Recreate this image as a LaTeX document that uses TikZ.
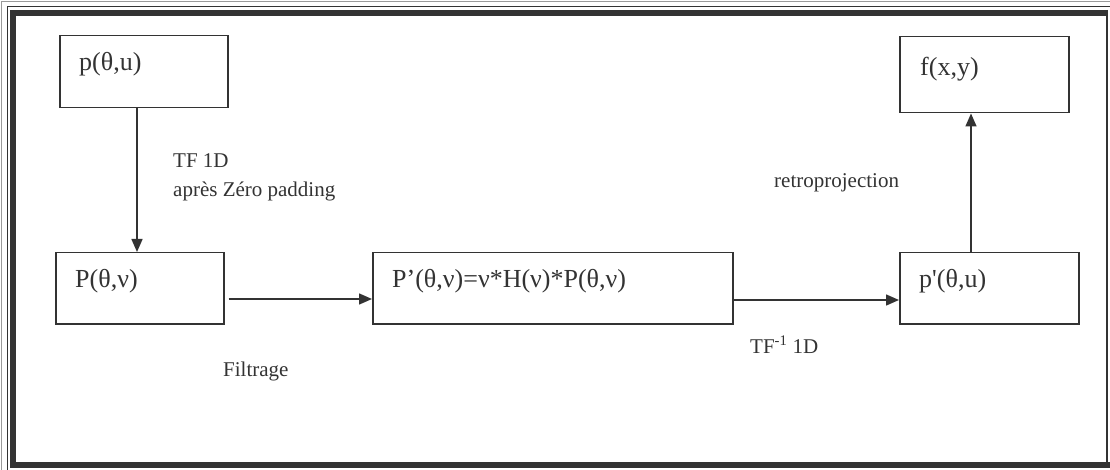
\documentclass[tikz,border=0pt]{standalone}
\usepackage{fontspec}
\setmainfont{Liberation Serif}
\newfontfamily\straightfont{Liberation Serif}
\usetikzlibrary{arrows.meta,calc}
\definecolor{ink}{HTML}{333333}
\definecolor{pale}{HTML}{9A9A9A}
\begin{document}
\begin{tikzpicture}[x=1pt,y=-1pt,
  boxsty/.style={draw=ink,line width=1.5pt,inner sep=0pt,anchor=north west},
  txt/.style={anchor=base west,inner sep=0pt,text=ink,font=\fontsize{26}{30}\selectfont},
  lbl/.style={anchor=base west,inner sep=0pt,text=ink,font=\fontsize{21}{25}\selectfont},
  arr/.style={draw=ink,line width=1.5pt,-{Triangle[length=13pt,width=11pt]}}
]
\useasboundingbox (0,0) rectangle (1110,470);
\fill[white] (0,0) rectangle (1110,470);
% frame
\draw[pale,line width=1pt] (1.5,470) -- (1.5,1.5) -- (1110,1.5);
\draw[ink,line width=1pt] (7,470) -- (7,7) -- (1110,7);
\fill[ink] (10,10) rectangle (1106,16);
\fill[ink] (10,10) rectangle (16,468);
\fill[ink] (10,462) rectangle (1110,468);
\draw[ink,line width=1.5pt] (1107,10) -- (1107,462);
% boxes
\node[boxsty,minimum width=168pt,minimum height=72pt] (b1) at (59,35) {};
\node[boxsty,minimum width=168pt,minimum height=71pt] (b2) at (55,252) {};
\node[boxsty,minimum width=360pt,minimum height=71pt] (b3) at (372,252) {};
\node[boxsty,minimum width=179pt,minimum height=71pt] (b4) at (899,252) {};
\node[boxsty,minimum width=169pt,minimum height=76pt] (b5) at (899,36) {};
% box texts
\node[txt] (t1) at ($(b1.north west)+(20,36)$) {p(θ,u)};
\node[txt] (t2) at ($(b2.north west)+(20,35)$) {P(θ,ν)};
\node[txt] (t3) at ($(b3.north west)+(20,35)$) {P’(θ,ν)=ν*H(ν)*P(θ,ν)};
\node[txt] (t4) at ($(b4.north west)+(20,35)$) {p{\straightfont '}(θ,u)};
\node[txt] (t5) at ($(b5.north west)+(21,40)$) {f(x,y)};
% connectors
\coordinate (d1) at ($(b1.south west)+(78,0)$);
\draw[arr] (d1) -- (d1 |- b2.north);
\coordinate (h1) at ($(b2.north east)+(4,47)$);
\draw[arr] (h1) -- (h1 -| b3.west);
\coordinate (h2) at ($(b3.north east)+(0,48)$);
\draw[arr] (h2) -- (h2 -| b4.west);
\coordinate (u1) at ($(b4.north west)+(72,0)$);
\draw[arr] (u1) -- (u1 |- b5.south);
% labels
\node[lbl] (l1) at (173,168) {TF 1D};
\node[lbl] (l2) at (173,197) {après Zéro padding};
\node[lbl] (l3) at (774,188) {retroprojection};
\node[lbl] (l4) at (223,376) {Filtrage};
\node[lbl] (l5) at (750,353) {TF\textsuperscript{-1} 1D};
\end{tikzpicture}
\end{document}
